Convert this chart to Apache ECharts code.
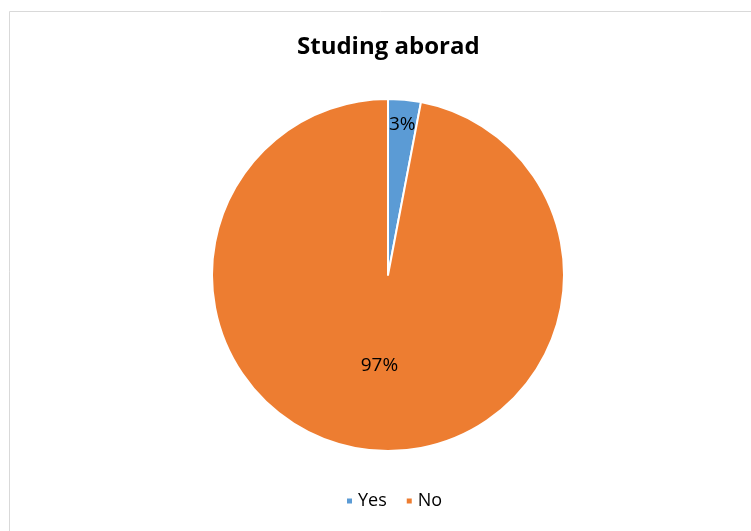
<!DOCTYPE html>
<html>
<head>
<meta charset="utf-8">
<script src="https://cdn.jsdelivr.net/npm/echarts@6/dist/echarts.min.js"></script>
<style>
  html, body { margin: 0; padding: 0; background: #fff; }
  #chart { width: 751px; height: 531px; }
</style>
</head>
<body>
<div id="chart"></div>
<script>
// Survey answers: share of respondents studying abroad
const categories = ['Yes', 'No'];
const shares = [3, 97];
const colors = ['#5B9BD5', '#ED7D31'];
const chartTitle = 'Studing aborad';

const data = categories.map((name, i) => ({ name: name, value: shares[i] }));
const pct = p => Math.round(p.percent) + '%';

const labelStyle = {
  position: 'inside',
  formatter: pct,
  fontFamily: 'Open Sans',
  fontSize: 19,
  color: '#000'
};

const chart = echarts.init(document.getElementById('chart'));
chart.setOption({
  animation: false,
  color: colors,
  title: {
    text: chartTitle,
    left: 297,
    top: 35,
    padding: 0,
    textStyle: { fontFamily: 'Open Sans', fontWeight: 'bold', fontSize: 24, color: '#000' }
  },
  legend: {
    data: categories,
    top: 492,
    left: 345,
    padding: 0,
    icon: 'rect',
    itemWidth: 7,
    itemHeight: 7,
    itemGap: 18,
    textStyle: { fontFamily: 'Open Sans', fontSize: 18, color: '#000' }
  },
  graphic: [{
    type: 'rect',
    shape: { x: 9.5, y: 11.5, width: 760, height: 540 },
    style: { fill: 'none', stroke: '#d9d9d9', lineWidth: 1 },
    silent: true
  }],
  series: [
    {
      // full pie; the large slice carries its label at mid radius
      type: 'pie',
      center: [388, 275],
      radius: [0, 176],
      startAngle: 90,
      clockwise: true,
      data: data.map((d, i) => ({
        name: d.name,
        value: d.value,
        label: { show: i === 1 }
      })),
      itemStyle: { borderColor: '#fff', borderWidth: 2 },
      label: labelStyle,
      labelLine: { show: false },
      emphasis: { disabled: true }
    },
    {
      // invisible outer ring used only to place the small slice label near the rim
      type: 'pie',
      center: [388, 275],
      radius: [120, 176],
      startAngle: 90,
      clockwise: true,
      silent: true,
      data: data.map((d, i) => ({
        name: d.name,
        value: d.value,
        label: { show: i === 0 }
      })),
      itemStyle: { color: 'rgba(0,0,0,0)', borderWidth: 0 },
      label: labelStyle,
      labelLine: { show: false },
      emphasis: { disabled: true }
    }
  ]
});
</script>
</body>
</html>
